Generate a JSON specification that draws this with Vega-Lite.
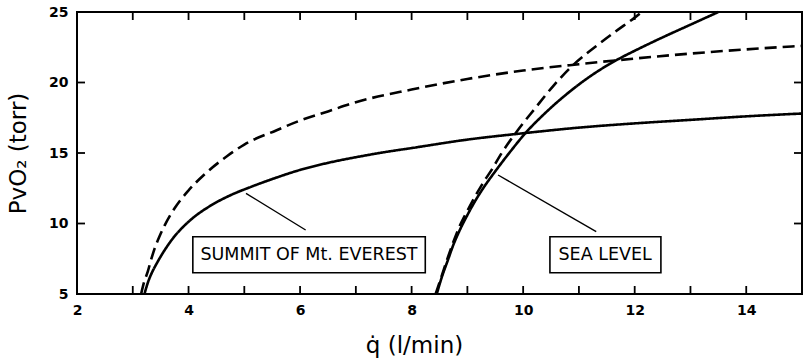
{
  "$schema": "https://vega.github.io/schema/vega-lite/v6.json",
  "width": 725,
  "height": 282,
  "autosize": "none",
  "padding": {"left": 77, "top": 12, "right": 1, "bottom": 64},
  "background": "white",
  "config": {
    "view": {"stroke": "black", "strokeWidth": 2},
    "axis": {
      "domain": false,
      "ticks": false,
      "grid": false,
      "labelColor": "black",
      "labelFont": "DejaVu Sans",
      "labelFontWeight": "bold",
      "labelFontSize": 14,
      "titleColor": "black",
      "titleFont": "DejaVu Sans",
      "titleFontWeight": "normal",
      "titleFontSize": 23
    }
  },
  "datasets": {
    "curves": [
      {"curve": "summit_solid", "style": "solid", "q": 3.21, "p": 5},
      {"curve": "summit_solid", "style": "solid", "q": 3.27, "p": 5.8},
      {"curve": "summit_solid", "style": "solid", "q": 3.33, "p": 6.4},
      {"curve": "summit_solid", "style": "solid", "q": 3.42, "p": 7.1},
      {"curve": "summit_solid", "style": "solid", "q": 3.51, "p": 7.72},
      {"curve": "summit_solid", "style": "solid", "q": 3.62, "p": 8.4},
      {"curve": "summit_solid", "style": "solid", "q": 3.75, "p": 9.1},
      {"curve": "summit_solid", "style": "solid", "q": 3.9, "p": 9.75},
      {"curve": "summit_solid", "style": "solid", "q": 4.05, "p": 10.3},
      {"curve": "summit_solid", "style": "solid", "q": 4.41, "p": 11.3},
      {"curve": "summit_solid", "style": "solid", "q": 4.76, "p": 12.02},
      {"curve": "summit_solid", "style": "solid", "q": 5.12, "p": 12.6},
      {"curve": "summit_solid", "style": "solid", "q": 5.5, "p": 13.15},
      {"curve": "summit_solid", "style": "solid", "q": 6, "p": 13.8},
      {"curve": "summit_solid", "style": "solid", "q": 6.5, "p": 14.3},
      {"curve": "summit_solid", "style": "solid", "q": 7, "p": 14.7},
      {"curve": "summit_solid", "style": "solid", "q": 7.5, "p": 15.05},
      {"curve": "summit_solid", "style": "solid", "q": 8, "p": 15.35},
      {"curve": "summit_solid", "style": "solid", "q": 9, "p": 15.95},
      {"curve": "summit_solid", "style": "solid", "q": 10, "p": 16.4},
      {"curve": "summit_solid", "style": "solid", "q": 11, "p": 16.8},
      {"curve": "summit_solid", "style": "solid", "q": 12, "p": 17.1},
      {"curve": "summit_solid", "style": "solid", "q": 13, "p": 17.35},
      {"curve": "summit_solid", "style": "solid", "q": 14, "p": 17.6},
      {"curve": "summit_solid", "style": "solid", "q": 15, "p": 17.8},
      {"curve": "summit_dashed", "style": "dashed", "q": 3.15, "p": 5},
      {"curve": "summit_dashed", "style": "dashed", "q": 3.2, "p": 5.8},
      {"curve": "summit_dashed", "style": "dashed", "q": 3.27, "p": 6.6},
      {"curve": "summit_dashed", "style": "dashed", "q": 3.33, "p": 7.45},
      {"curve": "summit_dashed", "style": "dashed", "q": 3.39, "p": 8.2},
      {"curve": "summit_dashed", "style": "dashed", "q": 3.48, "p": 9.1},
      {"curve": "summit_dashed", "style": "dashed", "q": 3.57, "p": 9.85},
      {"curve": "summit_dashed", "style": "dashed", "q": 3.75, "p": 11.08},
      {"curve": "summit_dashed", "style": "dashed", "q": 3.99, "p": 12.3},
      {"curve": "summit_dashed", "style": "dashed", "q": 4.29, "p": 13.5},
      {"curve": "summit_dashed", "style": "dashed", "q": 4.7, "p": 14.8},
      {"curve": "summit_dashed", "style": "dashed", "q": 5.0, "p": 15.6},
      {"curve": "summit_dashed", "style": "dashed", "q": 5.57, "p": 16.6},
      {"curve": "summit_dashed", "style": "dashed", "q": 6, "p": 17.3},
      {"curve": "summit_dashed", "style": "dashed", "q": 6.5, "p": 17.95},
      {"curve": "summit_dashed", "style": "dashed", "q": 7, "p": 18.6},
      {"curve": "summit_dashed", "style": "dashed", "q": 8, "p": 19.5},
      {"curve": "summit_dashed", "style": "dashed", "q": 9, "p": 20.25},
      {"curve": "summit_dashed", "style": "dashed", "q": 10, "p": 20.85},
      {"curve": "summit_dashed", "style": "dashed", "q": 11, "p": 21.3},
      {"curve": "summit_dashed", "style": "dashed", "q": 12, "p": 21.7},
      {"curve": "summit_dashed", "style": "dashed", "q": 13, "p": 22.05},
      {"curve": "summit_dashed", "style": "dashed", "q": 14, "p": 22.35},
      {"curve": "summit_dashed", "style": "dashed", "q": 15, "p": 22.6},
      {"curve": "sea_solid", "style": "solid", "q": 8.45, "p": 5},
      {"curve": "sea_solid", "style": "solid", "q": 8.55, "p": 6.3},
      {"curve": "sea_solid", "style": "solid", "q": 8.65, "p": 7.4},
      {"curve": "sea_solid", "style": "solid", "q": 8.75, "p": 8.5},
      {"curve": "sea_solid", "style": "solid", "q": 8.86, "p": 9.5},
      {"curve": "sea_solid", "style": "solid", "q": 9.0, "p": 10.6},
      {"curve": "sea_solid", "style": "solid", "q": 9.14, "p": 11.6},
      {"curve": "sea_solid", "style": "solid", "q": 9.3, "p": 12.6},
      {"curve": "sea_solid", "style": "solid", "q": 9.5, "p": 13.7},
      {"curve": "sea_solid", "style": "solid", "q": 9.75, "p": 15.0},
      {"curve": "sea_solid", "style": "solid", "q": 10.05, "p": 16.45},
      {"curve": "sea_solid", "style": "solid", "q": 10.4, "p": 17.85},
      {"curve": "sea_solid", "style": "solid", "q": 10.85, "p": 19.4},
      {"curve": "sea_solid", "style": "solid", "q": 11.3, "p": 20.7},
      {"curve": "sea_solid", "style": "solid", "q": 11.75, "p": 21.75},
      {"curve": "sea_solid", "style": "solid", "q": 12.0, "p": 22.25},
      {"curve": "sea_solid", "style": "solid", "q": 12.5, "p": 23.2},
      {"curve": "sea_solid", "style": "solid", "q": 13.0, "p": 24.1},
      {"curve": "sea_solid", "style": "solid", "q": 13.5, "p": 25},
      {"curve": "sea_dashed", "style": "dashed", "q": 8.43, "p": 5},
      {"curve": "sea_dashed", "style": "dashed", "q": 8.55, "p": 6.4},
      {"curve": "sea_dashed", "style": "dashed", "q": 8.65, "p": 7.6},
      {"curve": "sea_dashed", "style": "dashed", "q": 8.75, "p": 8.7},
      {"curve": "sea_dashed", "style": "dashed", "q": 8.86, "p": 9.8},
      {"curve": "sea_dashed", "style": "dashed", "q": 9.0, "p": 10.9},
      {"curve": "sea_dashed", "style": "dashed", "q": 9.15, "p": 12.0},
      {"curve": "sea_dashed", "style": "dashed", "q": 9.3, "p": 13.0},
      {"curve": "sea_dashed", "style": "dashed", "q": 9.45, "p": 13.9},
      {"curve": "sea_dashed", "style": "dashed", "q": 9.6, "p": 14.9},
      {"curve": "sea_dashed", "style": "dashed", "q": 9.9, "p": 16.6},
      {"curve": "sea_dashed", "style": "dashed", "q": 10.2, "p": 18.1},
      {"curve": "sea_dashed", "style": "dashed", "q": 10.55, "p": 19.8},
      {"curve": "sea_dashed", "style": "dashed", "q": 10.9, "p": 21.25},
      {"curve": "sea_dashed", "style": "dashed", "q": 11.3, "p": 22.55},
      {"curve": "sea_dashed", "style": "dashed", "q": 11.65, "p": 23.6},
      {"curve": "sea_dashed", "style": "dashed", "q": 12.0, "p": 24.6},
      {"curve": "sea_dashed", "style": "dashed", "q": 12.13, "p": 25}
    ],
    "leaders": [
      {"label": "summit", "q": 5.03, "p": 12.14, "q2": 6.1, "p2": 9.54},
      {"label": "sea", "q": 9.55, "p": 13.44, "q2": 11.31, "p2": 9.42}
    ],
    "boxes": [
      {"text": "SUMMIT OF Mt. EVEREST", "q": 4.077, "q2": 8.245, "p": 6.51, "p2": 9.06, "tq": 6.16, "tp": 7.77},
      {"text": "SEA LEVEL", "q": 10.48, "q2": 12.47, "p": 6.51, "p2": 9.06, "tq": 11.47, "tp": 7.77}
    ],
    "xticks": [
      {"q": 3, "p": 5}, {"q": 4, "p": 5}, {"q": 5, "p": 5}, {"q": 6, "p": 5}, {"q": 7, "p": 5}, {"q": 8, "p": 5},
      {"q": 9, "p": 5}, {"q": 10, "p": 5}, {"q": 11, "p": 5}, {"q": 12, "p": 5}, {"q": 13, "p": 5}, {"q": 14, "p": 5},
      {"q": 3, "p": 25}, {"q": 4, "p": 25}, {"q": 5, "p": 25}, {"q": 6, "p": 25}, {"q": 7, "p": 25}, {"q": 8, "p": 25},
      {"q": 9, "p": 25}, {"q": 10, "p": 25}, {"q": 11, "p": 25}, {"q": 12, "p": 25}, {"q": 13, "p": 25}, {"q": 14, "p": 25}
    ],
    "yticks": [
      {"q": 2, "p": 10}, {"q": 2, "p": 15}, {"q": 2, "p": 20},
      {"q": 15, "p": 10}, {"q": 15, "p": 15}, {"q": 15, "p": 20}
    ]
  },
  "layer": [
    {
      "data": {"name": "curves"},
      "mark": {"type": "line", "color": "black", "strokeWidth": 2.6, "interpolate": "monotone"},
      "encoding": {
        "x": {
          "field": "q", "type": "quantitative",
          "scale": {"domain": [2, 15], "nice": false, "zero": false},
          "axis": {
            "orient": "bottom",
            "tickCount": 13,
            "labelExpr": "datum.value % 2 === 0 ? datum.label : ''",
            "labelPadding": 9,
            "labelFlush": false,
            "title": "q̇  (l/min)",
            "titleX": 337,
            "titleY": 58,
            "titleAlign": "center",
            "titleBaseline": "alphabetic"
          }
        },
        "y": {
          "field": "p", "type": "quantitative",
          "scale": {"domain": [5, 25], "nice": false, "zero": false},
          "axis": {
            "orient": "left",
            "tickCount": 4,
            "labelPadding": 9,
            "labelFlush": false,
            "title": "PvO₂  (torr)",
            "titleX": -59,
            "titleY": 141,
            "titleAngle": 270,
            "titleAlign": "center",
            "titleBaseline": "middle"
          }
        },
        "detail": {"field": "curve"},
        "strokeDash": {
          "field": "style", "type": "nominal",
          "scale": {"domain": ["solid", "dashed"], "range": [[1, 0], [12, 6]]},
          "legend": null
        }
      }
    },
    {
      "data": {"name": "leaders"},
      "mark": {"type": "rule", "color": "black", "strokeWidth": 1.4},
      "encoding": {
        "x": {"field": "q", "type": "quantitative"},
        "y": {"field": "p", "type": "quantitative"},
        "x2": {"field": "q2"},
        "y2": {"field": "p2"}
      }
    },
    {
      "data": {"name": "boxes"},
      "mark": {"type": "rect", "fill": "white", "stroke": "black", "strokeWidth": 1.6},
      "encoding": {
        "x": {"field": "q", "type": "quantitative"},
        "x2": {"field": "q2"},
        "y": {"field": "p", "type": "quantitative"},
        "y2": {"field": "p2"}
      }
    },
    {
      "data": {"name": "boxes"},
      "mark": {"type": "text", "font": "DejaVu Sans", "fontSize": 17.5, "fontWeight": "normal", "color": "black", "align": "center", "baseline": "middle"},
      "encoding": {
        "x": {"field": "tq", "type": "quantitative"},
        "y": {"field": "tp", "type": "quantitative"},
        "text": {"field": "text"}
      }
    },
    {
      "data": {"name": "xticks"},
      "mark": {"type": "tick", "orient": "vertical", "size": 16, "thickness": 1.8, "color": "black", "opacity": 1, "clip": true},
      "encoding": {
        "x": {"field": "q", "type": "quantitative"},
        "y": {"field": "p", "type": "quantitative"}
      }
    },
    {
      "data": {"name": "yticks"},
      "mark": {"type": "tick", "orient": "horizontal", "size": 16, "thickness": 1.8, "color": "black", "opacity": 1, "clip": true},
      "encoding": {
        "x": {"field": "q", "type": "quantitative"},
        "y": {"field": "p", "type": "quantitative"}
      }
    }
  ]
}
